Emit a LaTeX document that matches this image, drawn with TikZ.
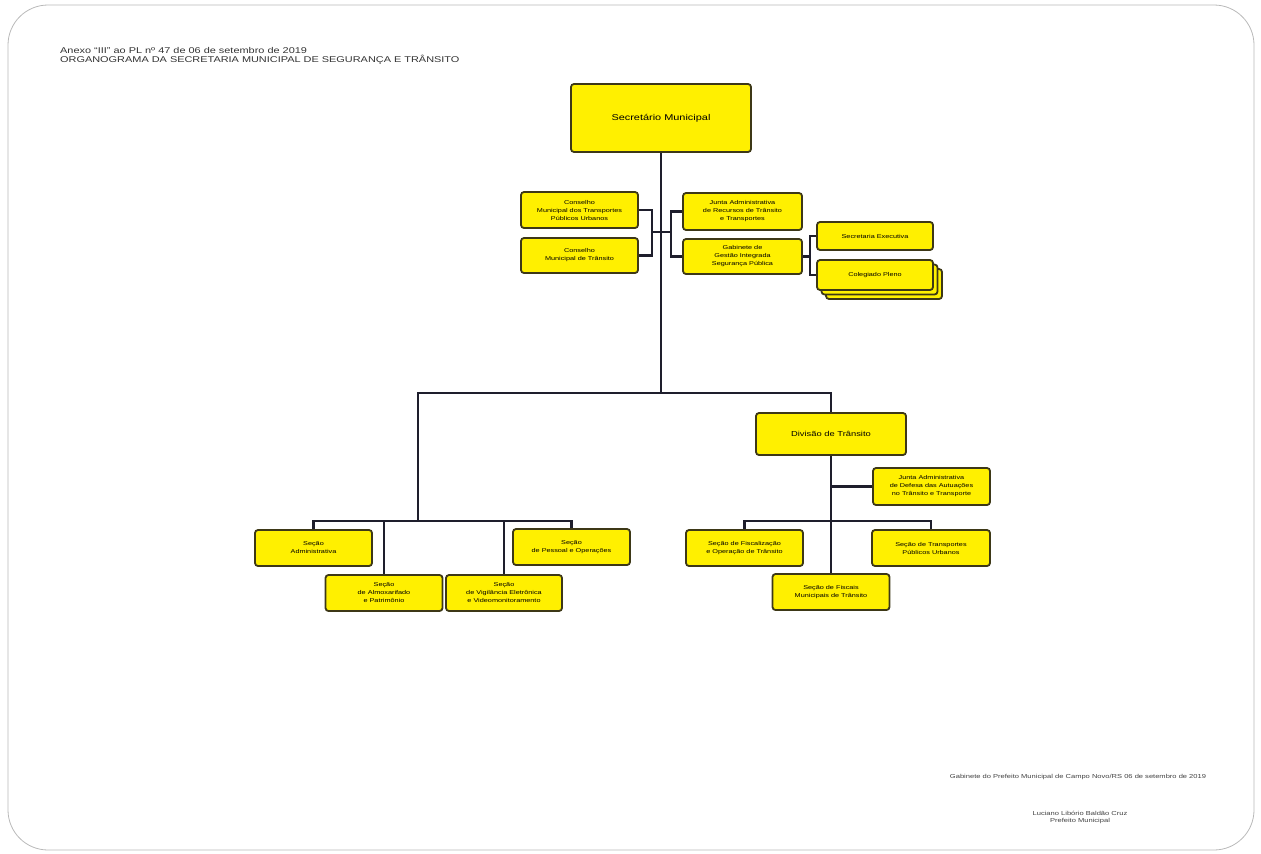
\documentclass[tikz,border=0pt]{standalone}
\usepackage{fontspec}
\setmainfont{Liberation Sans}[FakeStretch=1.3]
\usetikzlibrary{shadows}
\definecolor{boxfill}{HTML}{FFF000}
\definecolor{boxline}{HTML}{3D3817}
\definecolor{wire}{HTML}{1E1E2C}
\begin{document}
\begin{tikzpicture}[x=1pt, y=-1pt,
    box/.style={rectangle, rounded corners=3pt, draw=boxline, line width=1.8pt, fill=boxfill,
        minimum width=117pt, minimum height=36pt, inner sep=1pt, align=center,
        font=\fontsize{5.6}{8}\selectfont},
    link/.style={draw=wire, line width=2.5pt},
    note/.style={font=\fontsize{5.8}{7}\selectfont, text=black!75, align=center}
]
    \useasboundingbox (0,0) rectangle (1261,854);
    \draw[gray!55, line width=0.8pt, rounded corners=40pt] (8,5) rectangle (1254,850);

    % Heading
    \node[anchor=north west, align=left, inner sep=0pt, font=\fontsize{8.4}{9}\selectfont, text=black!80]
        (title) at (60,47) {Anexo ``III'' ao PL nº 47 de 06 de setembro de 2019\\
        ORGANOGRAMA DA SECRETARIA MUNICIPAL DE SEGURANÇA E TRÂNSITO};

    % Top level
    \node[box, minimum width=180pt, minimum height=68pt, font=\fontsize{8.4}{10}\selectfont] (secr) at (661,118) {Secretário Municipal};

    % Councils
    \node[box] (cmtpu) at (579.5,210) {Conselho\\Municipal dos Transportes\\Públicos Urbanos};
    \node[box, minimum height=35pt] (cmt) at (579.5,255.5) {Conselho\\Municipal de Trânsito};
    \node[box, minimum width=119pt, minimum height=37pt] (jari) at (742.5,211.5) {Junta Administrativa\\de Recursos de Trânsito\\e Transportes};
    \node[box, minimum width=119pt, minimum height=35pt] (ggi) at (742.5,256.5) {Gabinete de\\Gestão Integrada\\Segurança Pública};
    \node[box, minimum width=116pt, minimum height=28pt] (secex) at (875,236) {Secretaria Executiva};
    \node[box, minimum width=116pt, minimum height=30pt,
        double copy shadow={shadow xshift=4.5pt, shadow yshift=-4.5pt, fill=boxfill, draw=boxline, line width=1.8pt}]
        (coleg) at (875,275) {Colegiado Pleno};

    % Division
    \node[box, minimum width=150pt, minimum height=42pt, font=\fontsize{7.2}{9}\selectfont] (divt) at (831,434) {Divisão de Trânsito};
    \node[box, minimum height=37pt] (jadat) at (931.5,486.5) {Junta Administrativa\\de Defesa das Autuações\\no Trânsito e Transporte};
    \node[box] (sfot) at (744.5,548) {Seção de Fiscalização\\e Operação de Trânsito};
    \node[box, minimum width=118pt] (stpu) at (931,548) {Seção de Transportes\\Públicos Urbanos};
    \node[box] (sfmt) at (831,592) {Seção de Fiscais\\Municipais de Trânsito};

    % Sections
    \node[box] (sadm) at (313.5,548) {Seção\\Administrativa};
    \node[box] (salm) at (384,593) {Seção\\de Almoxarifado\\e Patrimônio};
    \node[box, minimum width=116pt] (svig) at (504,593) {Seção\\de Vigilância Eletrônica\\e Videomonitoramento};
    \node[box] (spes) at (571.5,547) {Seção\\de Pessoal e Operações};

    % Junction points
    \coordinate (hub) at (661,393);
    \coordinate (lbus) at (418,521);
    \coordinate (rbus) at (831,521);
    \coordinate (lbr) at (652,232);
    \coordinate (rbr) at (671,232);
    \coordinate (gbr) at (810,256.5);

    % Lines
    \draw[link] (secr.south) -- (hub);
    \draw[link] (lbus) |- (hub) -| (divt.north);
    \draw[link] (cmtpu.east) -| (lbr) |- (cmt.east);
    \draw[link] (lbr) -- (lbr -| secr.south);
    \draw[link] (jari.west) -| (rbr) |- (ggi.west);
    \draw[link] (rbr) -- (rbr -| secr.south);
    \draw[link] (ggi.east) -- (gbr);
    \draw[link] (secex.west) -| (gbr) |- (coleg.west);
    \draw[link] (sadm.north) |- (lbus) -| (spes.north);
    \draw[link] (salm.north) -- (salm.north |- lbus);
    \draw[link] (svig.north) -- (svig.north |- lbus);
    \draw[link] (divt.south) -- (sfmt.north);
    \draw[link] (jadat.west) -- (jadat.west -| divt.south);
    \draw[link] (sfot.north) |- (rbus) -| (stpu.north);

    % Footer
    \node[note] (place) at (1078,777) {Gabinete do Prefeito Municipal de Campo Novo/RS 06 de setembro de 2019};
    \node[note] (sign) at (1080,817) {Luciano Libório Baldão Cruz\\Prefeito Municipal};
\end{tikzpicture}
\end{document}
